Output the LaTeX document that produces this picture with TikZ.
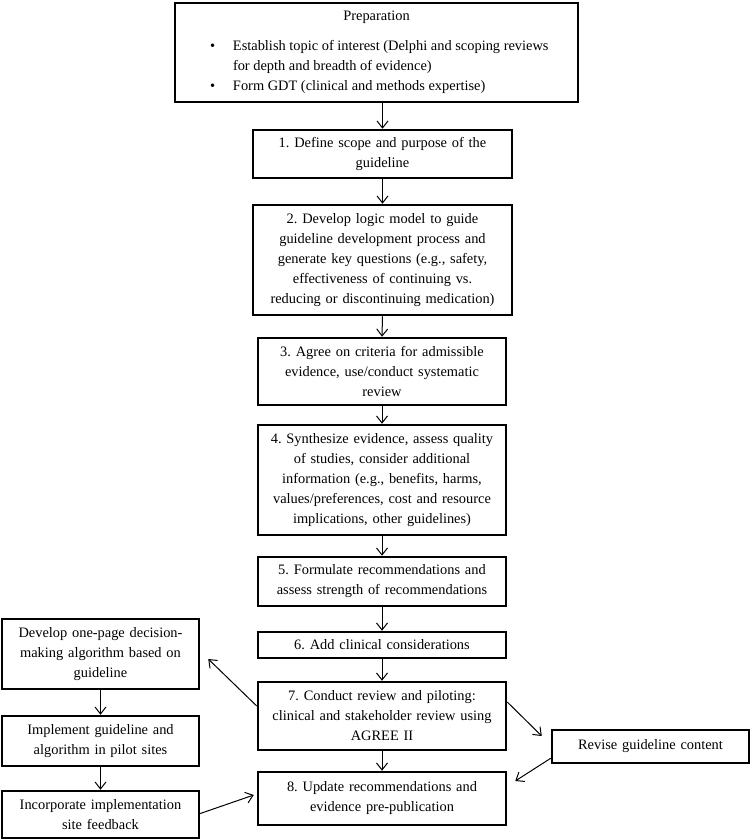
\documentclass[tikz,border=0pt]{standalone}
\usepackage{fontspec}
\setmainfont{Liberation Serif}
\usetikzlibrary{arrows.meta,positioning}
\newcommand{\fsz}{\fontsize{14.4}{20}\selectfont\frenchspacing}
\tikzset{
  box/.style={draw, line width=2.5pt, align=center, inner sep=1pt, font=\fsz, anchor=center},
  arr/.style={line width=1pt, -{Straight Barb[length=7pt,width=11pt,line width=1pt]}}
}
\begin{document}
\begin{tikzpicture}[x=1pt,y=-1pt]
\useasboundingbox (0,0) rectangle (750,840);
% Preparation
\node[box, minimum width=403pt, minimum height=99pt] (prep) at (376.5,52.5) {\begin{minipage}{395pt}\parindent=0pt\fsz
\centering Preparation\par\vspace{10pt}\raggedright
\makebox[54pt][l]{\hspace{31pt}\textbullet}Establish topic of interest (Delphi and scoping reviews\par
\hspace*{54pt}for depth and breadth of evidence)\par
\makebox[54pt][l]{\hspace{31pt}\textbullet}Form GDT (clinical and methods expertise)\par
\end{minipage}};
% main column
\node[box, minimum width=259pt, minimum height=48pt, text width=255pt] (b1) at (382.5,154) {1. Define scope and purpose of the\\guideline};
\node[box, minimum width=259pt, minimum height=110pt, text width=255pt] (b2) at (382.5,260) {2. Develop logic model to guide\\guideline development process and\\generate key questions (e.g., safety,\\effectiveness of continuing vs.\\reducing or discontinuing medication)};
\node[box, minimum width=248pt, minimum height=67pt, text width=244pt] (b3) at (382,371.5) {3. Agree on criteria for admissible\\evidence, use/conduct systematic\\review};
\node[box, minimum width=248pt, minimum height=110pt, text width=244pt] (b4) at (382,480) {4. Synthesize evidence, assess quality\\of studies, consider additional\\information (e.g., benefits, harms,\\values/preferences, cost and resource\\implications, other guidelines)};
\node[box, minimum width=248pt, minimum height=49pt, text width=244pt] (b5) at (382,581.5) {5. Formulate recommendations and\\assess strength of recommendations};
\node[box, minimum width=248pt, minimum height=26pt, text width=244pt] (b6) at (382,645) {6. Add clinical considerations};
\node[box, minimum width=248pt, minimum height=68pt, text width=244pt] (b7) at (382,716) {7. Conduct review and piloting:\\clinical and stakeholder review using\\AGREE II};
\node[box, minimum width=248pt, minimum height=53pt, text width=244pt] (b8) at (382,798.5) {8. Update recommendations and\\evidence pre-publication};
% left column
\node[box, minimum width=197pt, minimum height=70pt, text width=193pt] (la) at (100.5,654) {Develop one-page decision-\\making algorithm based on\\guideline};
\node[box, minimum width=197pt, minimum height=50pt, text width=193pt] (lb) at (100.5,741) {Implement guideline and\\algorithm in pilot sites};
\node[box, minimum width=197pt, minimum height=47pt, text width=193pt] (lc) at (100.5,814.5) {Incorporate implementation\\site feedback};
% right
\node[box, minimum width=197pt, minimum height=33pt, text width=193pt] (rv) at (650.5,746.5) {Revise guideline content};
% arrows
\draw[arr] (prep.south -| b1) -- (b1.north);
\draw[arr] (b1) -- (b2);
\draw[arr] (b2.south) -- (b3.north);
\draw[arr] (b3) -- (b4);
\draw[arr] (b4) -- (b5);
\draw[arr] (b5) -- (b6);
\draw[arr] (b6) -- (b7);
\draw[arr] (b7) -- (b8);
\draw[arr] (la) -- (lb);
\draw[arr] (lb) -- (lc);
\draw[arr] ([yshift=10pt]b7.west) -- ([xshift=8pt,yshift=-5pt]la.east);
\draw[arr] ([yshift=1pt]lc.east) -- ([xshift=-3pt,yshift=3.5pt]b8.west);
\draw[arr] ([yshift=14pt]b7.east) -- ([xshift=-9pt,yshift=10.5pt]rv.west);
\draw[arr] ([yshift=6pt]rv.south west) -- ([xshift=8pt,yshift=17.5pt]b8.east);
\end{tikzpicture}
\end{document}
